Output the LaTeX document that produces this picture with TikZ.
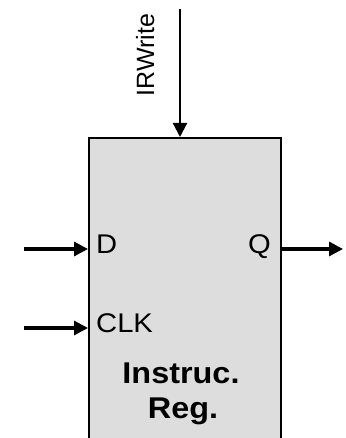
\documentclass[tikz,border=0pt]{standalone}
\usepackage{fontspec}
\setmainfont{Liberation Sans}[FakeStretch=1.08]
\newfontfamily\sidefont{Liberation Sans}
\usetikzlibrary{arrows.meta,positioning}
\definecolor{regfill}{RGB}{221,221,221}
\tikzset{
  wire/.style={line width=3.2pt,-{Triangle[length=14pt,width=14pt]}},
  ctrlwire/.style={line width=2.2pt,-{Triangle[length=14pt,width=14pt]}},
  portlbl/.style={inner sep=0pt,font=\fontsize{27}{31}\selectfont},
  namelbl/.style={inner sep=0pt,anchor=base,font=\bfseries\fontsize{30}{34}\selectfont},
}

\begin{document}
\begin{tikzpicture}[x=1pt,y=1pt]
\useasboundingbox (0,0) rectangle (345,438);
\clip (0,0) rectangle (345,438);

\node[shape=rectangle,draw,line width=2.4pt,fill=regfill,minimum width=192pt,minimum height=330pt,inner sep=0pt,anchor=north west] (reg) at (88,301) {};

\node[portlbl,anchor=base west] (dlbl) at (96,184.5) {D};
\node[portlbl,anchor=base east] (qlbl) at (271,184.5) {Q};
\node[portlbl,anchor=base west] (clklbl) at (96,105) {CLK};
\node[namelbl] (instr) at (181,54) {Instruc.};
\node[namelbl] (regname) at (183,19) {Reg.};
\node[inner sep=0pt,rotate=90,anchor=base,font=\sidefont\fontsize{25}{30}\selectfont] (wrlbl) at (154,383) {IRWrite};

\coordinate (din) at (24,189);
\coordinate (clkin) at (24,110);
\coordinate (qout) at (343,189);
\coordinate (wrin) at (180,429);

\draw[wire] (din) -- (din -| reg.west);
\draw[wire] (clkin) -- (clkin -| reg.west);
\draw[wire] (qout -| reg.east) -- (qout);
\draw[ctrlwire] (wrin) -- (wrin |- reg.north);
\end{tikzpicture}
\end{document}
